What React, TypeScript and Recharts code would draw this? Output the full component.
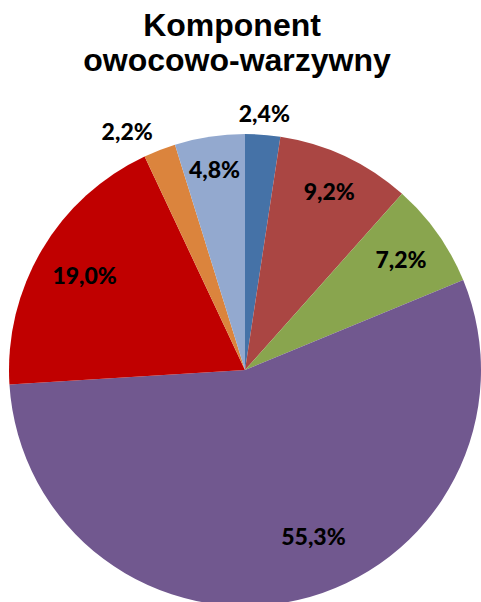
import React from 'react';
import { PieChart, Pie, Cell } from 'recharts';

const names = ['A', 'B', 'C', 'D', 'E', 'F', 'G'];
const shares = [2.4, 9.2, 7.2, 55.3, 19.0, 2.2, 4.8];
const labels = ['2,4%', '9,2%', '7,2%', '55,3%', '19,0%', '2,2%', '4,8%'];
const colors = ['#4572A7', '#AA4643', '#89A54E', '#71588F', '#C00000', '#DB843D', '#93A9CF'];
const titleLines = ['Komponent', 'owocowo-warzywny'];

// label distance (fraction of radius) and angle nudge, like the Excel layout
const labelRadius = [1.09, 0.84, 0.81, 0.76, 0.79, 1.13, 0.86];
const labelNudge = [0, 0, 0, 9.5, 0, 5, 0];

const data = names.map((n, i) => ({ name: n, value: shares[i] }));
const RAD = Math.PI / 180;

function renderLabel(props: any) {
  const { cx, cy, midAngle, outerRadius, index } = props;
  const r = outerRadius * labelRadius[index];
  const a = (midAngle + labelNudge[index]) * RAD;
  const x = cx + r * Math.cos(-a);
  const y = cy + r * Math.sin(-a);
  return (
    <text x={x} y={y} textAnchor="middle" dominantBaseline="central"
      fontFamily="Lato, sans-serif" fontWeight={900} fontSize={23} fill="#000">
      {labels[index]}
    </text>
  );
}

const titleStyle: React.CSSProperties = {
  position: 'absolute', textAlign: 'center', whiteSpace: 'nowrap',
  fontFamily: 'Liberation Sans, Arial, sans-serif', fontWeight: 'bold', fontSize: 32, lineHeight: '36px', color: '#000',
};

export default function App() {
  return (
    <div style={{ position: 'absolute', top: 0, left: 0, width: 481, height: 602, background: '#fff', overflow: 'hidden' }}>
      <div style={{ ...titleStyle, top: 7, left: 32, width: 400 }}>{titleLines[0]}</div>
      <div style={{ ...titleStyle, top: 42, left: 37, width: 400 }}>{titleLines[1]}</div>
      <PieChart width={481} height={602} margin={{ top: 0, right: 0, bottom: 0, left: 0 }}>
        <Pie data={data} dataKey="value" cx={245} cy={370} outerRadius={236}
          startAngle={90} endAngle={-270} stroke="none" label={renderLabel}
          labelLine={false} isAnimationActive={false}>
          {data.map((d, i) => <Cell key={d.name} fill={colors[i]} />)}
        </Pie>
      </PieChart>
    </div>
  );
}
